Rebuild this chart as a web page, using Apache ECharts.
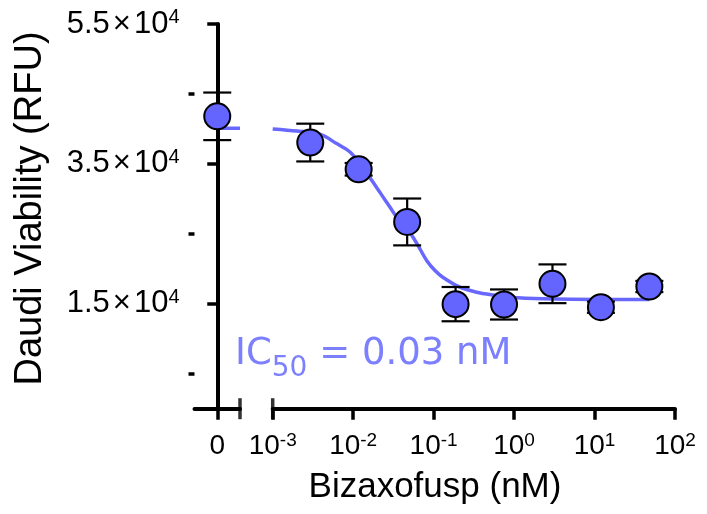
<!DOCTYPE html>
<html>
<head>
<meta charset="utf-8">
<script src="https://cdn.jsdelivr.net/npm/echarts@6/dist/echarts.min.js"></script>
<style>
  html, body { margin: 0; padding: 0; background: #fff; }
  #chart { width: 707px; height: 514px; }
</style>
</head>
<body>
<div id="chart"></div>
<script>
// untreated control (plotted on the "0" segment of the broken x axis)
const zeroMean = 41800;
const zeroErr = 3400;
const zeroFitY = 40100;

// dose series, nM
const doses = [0.00293, 0.0117, 0.0469, 0.1875, 0.75, 3, 12, 48];
const means = [38050, 34230, 26700, 14950, 14900, 17860, 14510, 17470];
const errs = [2700, 900, 3350, 2450, 2150, 2770, 800, 800];

// fitted curve
const fitX = [0.001, 0.00199, 0.00387, 0.00624, 0.00913, 0.0129, 0.0176, 0.0228, 0.0286, 0.0371, 0.0479,
    0.062, 0.0819, 0.104, 0.13, 0.212, 0.342, 0.545, 0.887, 2.28, 11.6, 48];
const fitY = [40000, 39700, 39250, 37900, 36700, 34650, 32400, 30500, 28830, 26900, 25600,
    23600, 21200, 19750, 18800, 17370, 16650, 16250, 15940, 15710, 15610, 15610];

const yMajor = [15000, 35000, 55000];
const yMinor = [5000, 25000, 45000];
const xDecades = [0.001, 0.01, 0.1, 1, 10, 100];

const ink = '#000';
const dotFill = '#6464ff';
const lineCol = '#6868ff';
const txtFont = 'Liberation Sans, Arial, sans-serif';

const chart = echarts.init(document.getElementById('chart'));

function errorBarItem(params, api) {
    const x = api.value(0);
    const top = api.coord([x, api.value(2)]);
    const bot = api.coord([x, api.value(1)]);
    const half = 14;
    const st = { stroke: ink, lineWidth: 2.2 };
    return {
        type: 'group',
        children: [
            { type: 'line', shape: { x1: top[0], y1: top[1], x2: bot[0], y2: bot[1] }, style: st },
            { type: 'line', shape: { x1: top[0] - half, y1: top[1], x2: top[0] + half, y2: top[1] }, style: st },
            { type: 'line', shape: { x1: bot[0] - half, y1: bot[1], x2: bot[0] + half, y2: bot[1] }, style: st }
        ]
    };
}

const axisLine = { show: true, lineStyle: { color: ink, width: 4 } };
const xTick = { show: true, length: 11, lineStyle: { color: ink, width: 3.5 } };
const xLabel = {
    color: ink,
    margin: 23,
    rich: {
        m: { fontSize: 28, fontFamily: txtFont, color: ink, lineHeight: 30 },
        s: { fontSize: 19, fontFamily: txtFont, color: ink, verticalAlign: 'top', lineHeight: 20 }
    }
};

const option = {
    animation: false,
    backgroundColor: '#fff',
    grid: [
        { left: 194.5, width: 45.5, top: 24, bottom: 105.3, containLabel: false },
        { left: 272.7, right: 32, top: 24, bottom: 105.3, containLabel: false }
    ],
    xAxis: [
        {
            gridIndex: 0, type: 'value', min: -1, max: 1,
            axisLine: { ...axisLine, onZero: false },
            axisTick: { ...xTick, customValues: [0] },
            axisLabel: { ...xLabel, customValues: [0], formatter: () => '{m|0}' },
            splitLine: { show: false }
        },
        {
            gridIndex: 1, type: 'log', logBase: 10, min: 0.001, max: 100,
            axisLine: { ...axisLine, onZero: false },
            axisTick: { ...xTick, customValues: xDecades },
            axisLabel: {
                ...xLabel,
                customValues: xDecades,
                formatter: v => '{m|10}{s|' + Math.round(Math.log10(v)) + '}'
            },
            minorTick: { show: false },
            splitLine: { show: false }
        }
    ],
    yAxis: [
        {
            gridIndex: 0, type: 'value', min: 0, max: 55000,
            axisLine: axisLine,
            axisTick: { show: true, length: 10, lineStyle: { color: ink, width: 3.5 }, customValues: yMajor },
            axisLabel: {
                margin: 15,
                customValues: yMajor,
                formatter: v => '{m|' + (v / 1e4).toFixed(1) + '}{x|×}{m|10}{s|4}',
                rich: {
                    m: { fontSize: 31, fontFamily: txtFont, color: ink, lineHeight: 33 },
                    x: { fontSize: 31, fontFamily: txtFont, color: ink, lineHeight: 33, padding: [0, 3, 0, 3] },
                    s: { fontSize: 20, fontFamily: txtFont, color: ink, verticalAlign: 'top', lineHeight: 22 }
                }
            },
            splitLine: { show: false }
        },
        {
            gridIndex: 0, type: 'value', min: 0, max: 55000, position: 'left',
            axisLine: { show: false },
            axisTick: { show: true, length: 6, lineStyle: { color: ink, width: 3.5 }, customValues: yMinor },
            axisLabel: { show: false },
            splitLine: { show: false }
        },
        {
            gridIndex: 1, type: 'value', min: 0, max: 55000,
            show: false
        }
    ],
    graphic: [
        {
            type: 'text', x: 31, y: 208.5, rotation: Math.PI / 2,
            style: {
                text: 'Daudi Viability (RFU)', fill: ink,
                font: '38px ' + txtFont, align: 'center', verticalAlign: 'middle'
            }
        },
        {
            type: 'text', x: 435, y: 487,
            style: {
                text: 'Bizaxofusp (nM)', fill: ink,
                font: '35px ' + txtFont, align: 'center', verticalAlign: 'middle'
            }
        },
        {
            type: 'text', x: 235, y: 331,
            style: {
                text: '{a|IC}{b|50}{a| = 0.03 nM}',
                rich: {
                    a: { fontSize: 37, fontFamily: 'DejaVu Sans', fill: '#7c80ff', lineHeight: 46 },
                    b: { fontSize: 28, fontFamily: 'DejaVu Sans', fill: '#7c80ff', lineHeight: 34, verticalAlign: 'bottom', padding: [0, 0, -6, 0] }
                }
            }
        }
    ],
    series: [
        {
            type: 'line', xAxisIndex: 0, yAxisIndex: 0,
            data: [[0, zeroFitY], [1, zeroFitY]],
            showSymbol: false, lineStyle: { color: lineCol, width: 3.5 }, z: 1
        },
        {
            type: 'line', xAxisIndex: 1, yAxisIndex: 2,
            data: fitX.map((x, i) => [x, fitY[i]]),
            smooth: 0.3, showSymbol: false,
            lineStyle: { color: lineCol, width: 3.5 }, z: 1
        },
        {
            type: 'custom', xAxisIndex: 0, yAxisIndex: 0,
            data: [[0, zeroMean - zeroErr, zeroMean + zeroErr]],
            renderItem: errorBarItem, z: 2, clip: false
        },
        {
            type: 'custom', xAxisIndex: 1, yAxisIndex: 2,
            data: doses.map((d, i) => [d, means[i] - errs[i], means[i] + errs[i]]),
            renderItem: errorBarItem, z: 2, clip: false
        },
        {
            type: 'scatter', xAxisIndex: 0, yAxisIndex: 0,
            data: [[0, zeroMean]], symbolSize: 26, clip: false,
            itemStyle: { color: dotFill, borderColor: ink, borderWidth: 2, opacity: 1 }, z: 3
        },
        {
            type: 'scatter', xAxisIndex: 1, yAxisIndex: 2,
            data: doses.map((d, i) => [d, means[i]]), symbolSize: 26, clip: false,
            itemStyle: { color: dotFill, borderColor: ink, borderWidth: 2, opacity: 1 }, z: 3
        },
        // tall ticks marking the axis break
        {
            type: 'scatter', xAxisIndex: 0, yAxisIndex: 0,
            data: [[1, 0]], symbol: 'rect', symbolSize: [3.5, 21], clip: false,
            itemStyle: { color: ink }, silent: true, z: 4
        },
        {
            type: 'scatter', xAxisIndex: 1, yAxisIndex: 2,
            data: [[0.001, 0]], symbol: 'rect', symbolSize: [3.5, 21], clip: false,
            itemStyle: { color: ink }, silent: true, z: 4
        }
    ]
};

chart.setOption(option);
</script>
</body>
</html>
